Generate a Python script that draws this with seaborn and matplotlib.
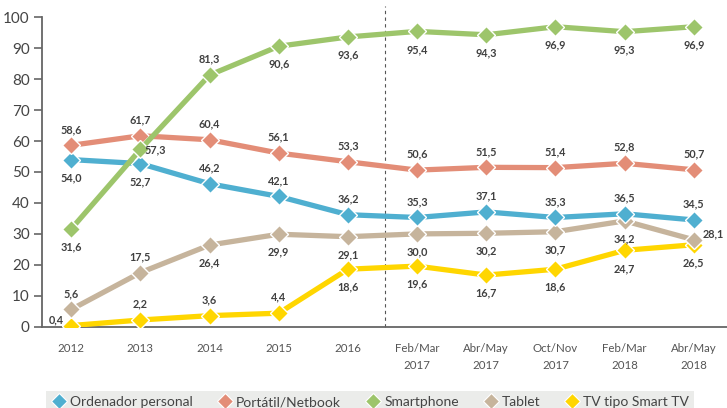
import matplotlib
matplotlib.use("Agg")
import matplotlib.pyplot as plt
from matplotlib.lines import Line2D
import seaborn as sns
import pandas as pd
import numpy as np

categories = ["2012", "2013", "2014", "2015", "2016", "Feb/Mar\n2017", "Abr/May\n2017",
              "Oct/Nov\n2017", "Feb/Mar\n2018", "Abr/May\n2018"]
ordenador = [54.0, 52.7, 46.2, 42.1, 36.2, 35.3, 37.1, 35.3, 36.5, 34.5]
portatil = [58.6, 61.7, 60.4, 56.1, 53.3, 50.6, 51.5, 51.4, 52.8, 50.7]
smartphone = [31.6, 57.3, 81.3, 90.6, 93.6, 95.4, 94.3, 96.9, 95.3, 96.9]
tablet = [5.6, 17.5, 26.4, 29.9, 29.1, 30.0, 30.2, 30.7, 34.2, 28.1]
smarttv = [0.4, 2.2, 3.6, 4.4, 18.6, 19.6, 16.7, 18.6, 24.7, 26.5]

series_names = ["Ordenador personal", "Portátil/Netbook", "Smartphone", "Tablet", "TV tipo Smart TV"]
series_values = [ordenador, portatil, smartphone, tablet, smarttv]
colors = ["#4FAFD0", "#E38D77", "#9DC56B", "#C6B49C", "#FFD600"]

# label placement: 'a' above, 'b' below, 'r' right, 'l' left
placements = {
    "Ordenador personal": ["b", "b", "a", "a", "a", "a", "a", "a", "a", "a"],
    "Portátil/Netbook": ["a"] * 10,
    "Smartphone": ["b", "r", "a", "b", "b", "b", "b", "b", "b", "b"],
    "Tablet": ["a", "a", "b", "b", "b", "b", "b", "b", "b", "r"],
    "TV tipo Smart TV": ["l", "a", "a", "a", "b", "b", "b", "b", "b", "b"],
}

rows = []
for name, vals in zip(series_names, series_values):
    for i, v in enumerate(vals):
        rows.append({"serie": name, "idx": i, "valor": v})
df = pd.DataFrame(rows)

sns.set_theme(style="white")
plt.rcParams["font.family"] = ["Lato", "DejaVu Sans"]

fig = plt.figure(figsize=(7.27, 4.08), dpi=100)
ax = fig.add_axes([0.058, 0.199, 0.942, 0.759])

draw_order = [4, 3, 0, 1, 2]
for k in draw_order:
    name = series_names[k]
    sub = df[df["serie"] == name]
    sns.lineplot(data=sub, x="idx", y="valor", color=colors[k], marker="D",
                 markersize=9.5, markeredgecolor="white", markeredgewidth=1.0,
                 linewidth=3.8, ax=ax, legend=False, zorder=3 + draw_order.index(k))

# value labels
for name, vals in zip(series_names, series_values):
    for i, v in enumerate(vals):
        p = placements[name][i]
        txt = f"{v:.1f}".replace(".", ",")
        if p == "a":
            off, ha, va = (0, 11.5), "center", "center"
        elif p == "b":
            off, ha, va = (0, -13), "center", "center"
        elif p == "r":
            off, ha, va = (3, 0), "left", "center"
            if name == "Tablet":
                off = (6, 4)
        else:
            off, ha, va = (-5, 4), "right", "center"
        ax.annotate(txt, (i, v), xytext=off, textcoords="offset points",
                    ha=ha, va=va, fontsize=7.8, fontweight="bold", color="#404040",
                    zorder=20)

ax.axvline(4.53, ymin=0, ymax=1.035, color="#555555", linestyle=(0, (3, 3)),
           linewidth=0.8, clip_on=False, zorder=1)

ax.set_xlim(-0.42, 9.48)
ax.set_ylim(0, 100)
ax.set_yticks(np.arange(0, 101, 10))
ax.set_xticks(range(len(categories)))
ax.set_xticklabels(categories)
ax.set_xticks(np.arange(0.55, 9.0, 1.0), minor=True)
ax.tick_params(axis="x", which="major", length=0, pad=12, labelsize=8.3, labelcolor="#555555")
ax.tick_params(axis="x", which="minor", length=8, width=1.2, color="#555555", direction="out")
ax.tick_params(axis="y", which="major", length=6, width=1.2, color="#666666",
               direction="out", labelsize=11, labelcolor="#444444", pad=3, left=True)
for lab in ax.get_xticklabels():
    lab.set_linespacing(1.6)
ax.set_xlabel("")
ax.set_ylabel("")
sns.despine(ax=ax, top=True, right=True)
for s in ["left", "bottom"]:
    ax.spines[s].set_color("#666666")
    ax.spines[s].set_linewidth(1.3)

handles = [Line2D([], [], linestyle="none", marker="D", markersize=8.5, color=c,
                  markeredgecolor="white", markeredgewidth=0.8) for c in colors]
leg = fig.legend(handles, series_names, loc="lower center", bbox_to_anchor=(0.509, -0.012),
                 ncol=5, frameon=True, fancybox=False, fontsize=10,
                 handletextpad=0.2, columnspacing=1.7, handlelength=1.2,
                 borderpad=0.35, borderaxespad=0)
leg.get_frame().set_facecolor("#E7E8E5")
leg.get_frame().set_edgecolor("none")
for t in leg.get_texts():
    t.set_color("#444444")

fig.savefig("out.png", dpi=100)
